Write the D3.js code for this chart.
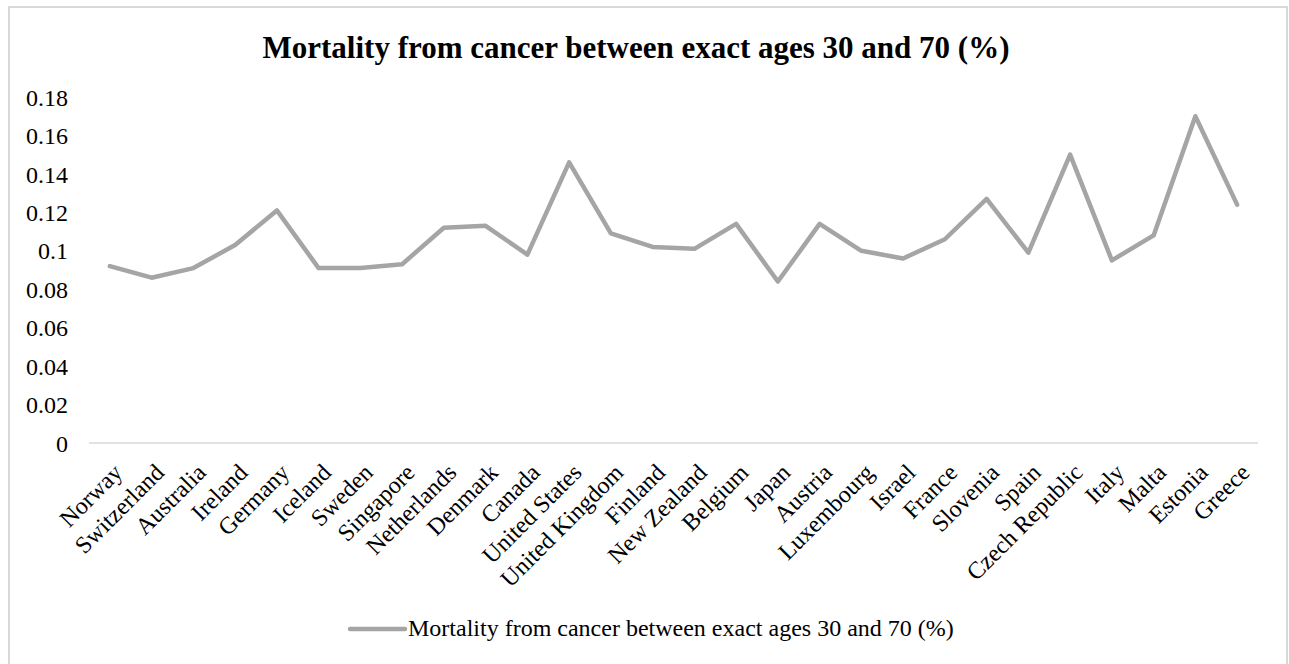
<!DOCTYPE html>
<html>
<head>
<meta charset="utf-8">
<script src="https://cdn.jsdelivr.net/npm/d3@7"></script>
<style>
  html, body { margin: 0; padding: 0; background: #fff; }
  svg { display: block; }
  text { font-family: "Liberation Serif", "Times New Roman", serif; fill: #000; }
</style>
</head>
<body>
<svg id="chart" width="1289" height="664"></svg>
<script>
// Countries along the x axis
const countries = [
  "Norway", "Switzerland", "Australia", "Ireland", "Germany", "Iceland",
  "Sweden", "Singapore", "Netherlands", "Denmark", "Canada", "United States",
  "United Kingdom", "Finland", "New Zealand", "Belgium", "Japan", "Austria",
  "Luxembourg", "Israel", "France", "Slovenia", "Spain", "Czech Republic",
  "Italy", "Malta", "Estonia", "Greece"
];

// Mortality from cancer between exact ages 30 and 70 (%)
const mortality = [
  0.092, 0.086, 0.091, 0.103, 0.121, 0.091,
  0.091, 0.093, 0.112, 0.113, 0.098, 0.146,
  0.109, 0.102, 0.101, 0.114, 0.084, 0.114,
  0.100, 0.096, 0.106, 0.127, 0.099, 0.150,
  0.095, 0.108, 0.170, 0.124
];

const yTicks = [0, 0.02, 0.04, 0.06, 0.08, 0.1, 0.12, 0.14, 0.16, 0.18];

const seriesName = "Mortality from cancer between exact ages 30 and 70 (%)";
const chartTitle = "Mortality from cancer between exact ages 30 and 70 (%)";

const SERIF = "'Liberation Serif', 'Times New Roman', serif";

const svg = d3.select("#chart");

// Chart frame
svg.append("rect")
  .attr("x", 9).attr("y", 7)
  .attr("width", 1278).attr("height", 720)
  .attr("fill", "#fff")
  .attr("stroke", "#d9d9d9")
  .attr("stroke-width", 2);

// Title
svg.append("text")
  .attr("x", 636).attr("y", 58)
  .attr("text-anchor", "middle")
  .style("font-size", "31px")
  .style("font-weight", "bold")
  .text(chartTitle);

const plot = { left: 89, right: 1258, top: 97, bottom: 443 };

const x = d3.scaleBand()
  .domain(countries)
  .range([plot.left, plot.right]);

const y = d3.scaleLinear()
  .domain([0, 0.18])
  .range([plot.bottom, plot.top]);

const cx = d => x(d) + x.bandwidth() / 2;

// Y axis labels (no axis line, no ticks)
const yAxis = d3.axisLeft(y)
  .tickValues(yTicks)
  .tickFormat(d => String(+d.toFixed(2)))
  .tickSize(0)
  .tickPadding(0);

const yg = svg.append("g")
  .attr("transform", "translate(68,0)")
  .call(yAxis)
  .attr("font-family", SERIF)
  .attr("font-size", 24);
yg.select(".domain").remove();
yg.selectAll("text")
  .attr("font-family", SERIF)
  .attr("fill", "#000")
  .attr("dy", "0.34em");

// Category axis line
svg.append("line")
  .attr("x1", plot.left).attr("x2", plot.right)
  .attr("y1", y(0)).attr("y2", y(0))
  .attr("stroke", "#d9d9d9")
  .attr("stroke-width", 1.5);

// Rotated category labels
svg.append("g")
  .selectAll("text")
  .data(countries)
  .join("text")
  .attr("transform", d => `translate(${cx(d) + 8},${y(0) + 25}) rotate(-45)`)
  .attr("text-anchor", "end")
  .attr("dy", "0.35em")
  .style("font-size", "24px")
  .text(d => d);

// Data line
const line = d3.line()
  .x((d, i) => cx(countries[i]))
  .y(d => y(d));

svg.append("path")
  .datum(mortality)
  .attr("d", line)
  .attr("fill", "none")
  .attr("stroke", "#a5a5a5")
  .attr("stroke-width", 4.5)
  .attr("stroke-linejoin", "round")
  .attr("stroke-linecap", "round");

// Legend
const lg = svg.append("g").attr("transform", "translate(350,629)");
lg.append("line")
  .attr("x1", 0).attr("x2", 55)
  .attr("y1", 0).attr("y2", 0)
  .attr("stroke", "#a5a5a5")
  .attr("stroke-width", 4.5)
  .attr("stroke-linecap", "round");
lg.append("text")
  .attr("x", 58).attr("y", 7)
  .style("font-size", "24px")
  .text(seriesName);
</script>
</body>
</html>
